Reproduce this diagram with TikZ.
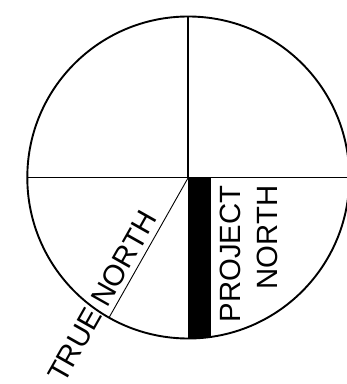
\documentclass[tikz,border=0pt]{standalone}
\usepackage{fontspec}
\setmainfont{Liberation Sans}
\usetikzlibrary{calc}
\definecolor{ink}{HTML}{000000}

\begin{document}
\begin{tikzpicture}[x=1pt,y=1pt,font=\fontsize{29.3}{36.7}\selectfont]
  \def\compassr{161}
  \def\truenorth{240.5}
  \useasboundingbox (0,0) rectangle (347,384);
  \coordinate (centre) at (188.3,206.5);
  \coordinate (rimtop) at ($(centre)+(90:\compassr)$);
  \coordinate (rimwest) at ($(centre)+(180:\compassr)$);
  \coordinate (rimeast) at ($(centre)+(0:\compassr)$);
  \coordinate (truefoot) at ($(centre)+(\truenorth:\compassr)$);

  % project north bar, cut at the rim
  \begin{scope}
    \clip (centre) circle (\compassr);
    \fill[ink] (centre) rectangle ++(22.4,-\compassr);
  \end{scope}
  \draw[ink,line width=1.9pt] (centre) circle (\compassr);
  \draw[ink,line width=1.9pt] (rimwest) -- (rimeast);
  \draw[ink,line width=1.9pt] (rimtop) -- (centre);
  \draw[ink,line width=0.9pt] (centre) -- (truefoot);

  \node (projectlabel) [rotate=90,anchor=north east,inner sep=0pt,align=right]
    at (220,198.5) {PROJECT\\NORTH};
  \node (truelabel) [rotate=60.5,anchor=base east,inner sep=0pt]
    at ($(centre)+(\truenorth:50)+(150.5:6)$) {TRUE NORTH};
\end{tikzpicture}
\end{document}
